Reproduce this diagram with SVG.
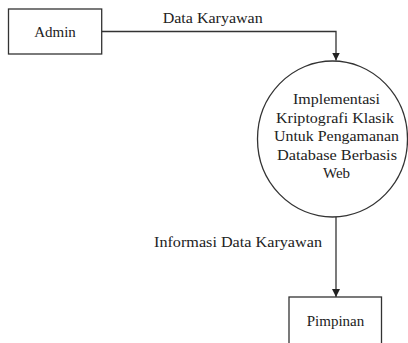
<svg xmlns="http://www.w3.org/2000/svg" width="408" height="343" viewBox="0 0 408 343">
<style>
.box{fill:#fff;stroke:#333;stroke-width:1.3}
.proc{fill:#fff;stroke:#333;stroke-width:1.3}
.t{font-family:"Liberation Serif","Times New Roman",serif;font-size:15px;fill:#222}
.c{text-anchor:middle}
.edge{fill:none;stroke:#333;stroke-width:1.3}
</style>
<defs>
<marker id="arr" viewBox="0 0 10 10" refX="10" refY="5" markerWidth="8" markerHeight="8" markerUnits="userSpaceOnUse" orient="auto">
<path d="M0,0 L10,5 L0,10 Z" fill="#222"/>
</marker>
</defs>
<rect width="408" height="343" fill="#fff"/>
<g id="connectors">
<path class="edge" d="M101.7,31.5 H336 V60.5" marker-end="url(#arr)"/>
<path class="edge" d="M336,217 V297" marker-end="url(#arr)"/>
<text class="t" x="162.7" y="23" textLength="100" lengthAdjust="spacingAndGlyphs">Data Karyawan</text>
<text class="t" x="154" y="247" textLength="168" lengthAdjust="spacingAndGlyphs">Informasi Data Karyawan</text>
</g>
<g id="admin">
<rect class="box" x="8.5" y="9" width="93.2" height="45"/>
<text class="t c" x="55" y="37">Admin</text>
</g>
<g id="process">
<ellipse class="proc" cx="332.5" cy="139" rx="75" ry="78"/>
<text class="t c" x="336.5" y="104" textLength="87" lengthAdjust="spacingAndGlyphs">Implementasi</text>
<text class="t c" x="335" y="122.5" textLength="118" lengthAdjust="spacingAndGlyphs">Kriptografi Klasik</text>
<text class="t c" x="336.5" y="141" textLength="125" lengthAdjust="spacingAndGlyphs">Untuk Pengamanan</text>
<text class="t c" x="337" y="159.5" textLength="120" lengthAdjust="spacingAndGlyphs">Database Berbasis</text>
<text class="t c" x="336.5" y="178">Web</text>
</g>
<g id="pimpinan">
<rect class="box" x="289" y="297" width="92.5" height="50"/>
<text class="t c" x="335.5" y="326">Pimpinan</text>
</g>
</svg>
